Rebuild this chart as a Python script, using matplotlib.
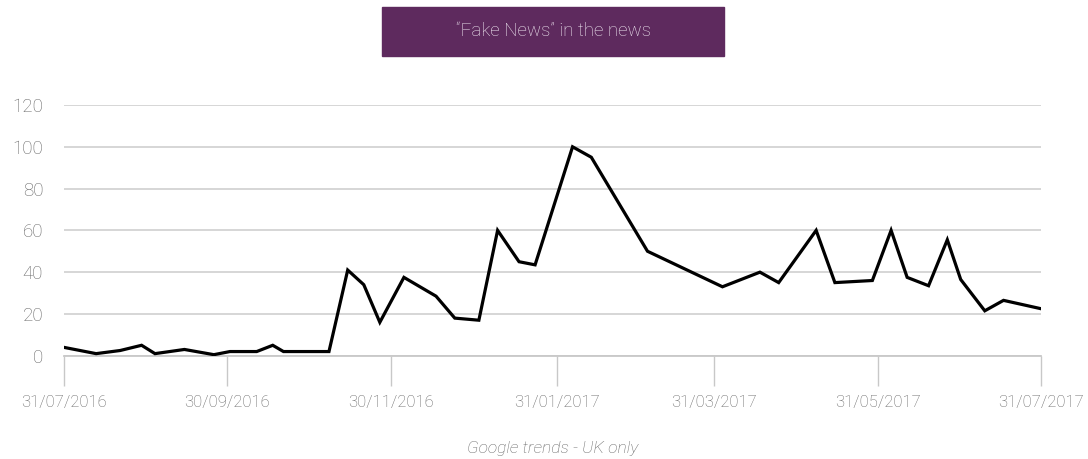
import numpy as np
import pandas as pd
import matplotlib
matplotlib.use('Agg')
import matplotlib.pyplot as plt
import matplotlib.dates as mdates
from matplotlib.patches import Rectangle

plt.rcParams['font.family'] = ['Roboto', 'DejaVu Sans']
plt.rcParams['font.weight'] = 'light'

# weekly-ish Google trends index for "fake news", UK
dates = ['2016-07-31', '2016-08-12', '2016-08-21', '2016-08-29', '2016-09-03',
         '2016-09-14', '2016-09-25', '2016-10-01', '2016-10-11', '2016-10-17',
         '2016-10-21', '2016-11-07', '2016-11-14', '2016-11-20', '2016-11-26',
         '2016-12-05', '2016-12-17', '2016-12-24', '2017-01-02', '2017-01-09',
         '2017-01-17', '2017-01-23', '2017-02-06', '2017-02-13', '2017-03-06',
         '2017-04-03', '2017-04-17', '2017-04-24', '2017-05-08', '2017-05-15',
         '2017-05-29', '2017-06-05', '2017-06-11', '2017-06-19', '2017-06-26',
         '2017-07-01', '2017-07-10', '2017-07-17', '2017-07-31']
interest = [4, 1, 2.5, 5, 1, 3, 0.5, 2, 2, 5, 2, 2, 41, 34, 16, 37.5, 28.5, 18,
            17, 60, 45, 43.5, 100, 95, 50, 33, 40, 35, 60, 35, 36, 60, 37.5,
            33.5, 55.5, 36.5, 21.5, 26.5, 22.5]
tick_dates = ['2016-07-31', '2016-09-30', '2016-11-30', '2017-01-31',
              '2017-03-31', '2017-05-31', '2017-07-31']
yticks = [0, 20, 40, 60, 80, 100, 120]

title = '\u201cFake News\u201d in the news'
caption = 'Google trends - UK only'

x = pd.to_datetime(dates)
xt = pd.to_datetime(tick_dates)

fig = plt.figure(figsize=(10.88, 4.59), dpi=100)
ax = fig.add_axes([0.0588, 0.225, 0.898, 0.5462])

ax.plot(x, interest, color='black', lw=2.3, solid_joinstyle='miter', zorder=3)

ax.set_xlim(xt[0], xt[-1])
ax.set_ylim(0, 120)
ax.set_yticks(yticks)
ax.set_xticks(xt)
ax.xaxis.set_major_formatter(mdates.DateFormatter('%d/%m/%Y'))

ax.grid(axis='y', color='#d3d3d3', lw=1.3)
ax.grid(axis='x', visible=False)
ax.set_axisbelow(True)
for s in ['top', 'right', 'left']:
    ax.spines[s].set_visible(False)
ax.spines['bottom'].set_color('#c8c8c8')
ax.spines['bottom'].set_linewidth(1.3)

ax.tick_params(axis='y', length=0, pad=15, labelsize=13.5, labelcolor='#666666')
ax.tick_params(axis='x', length=21.6, width=1.0, color='#c8c8c8', pad=7,
               labelsize=12, labelcolor='#666666')

# title banner, centred over the plot area
fig.patches.append(Rectangle((382 / 1088, 1 - 55.7 / 459), 342 / 1088, 48.4 / 459,
                             transform=fig.transFigure, color='#5e2a5e', zorder=0))
fig.text(553 / 1088, 1 - 31.5 / 459, title, ha='center', va='center',
         fontsize=13.5, color='#f0e8f2')

fig.text(553 / 1088, 1 - 448 / 459, caption, ha='center', va='center',
         fontsize=12.5, color='#666666', style='italic')

fig.savefig('out.png', dpi=100)
